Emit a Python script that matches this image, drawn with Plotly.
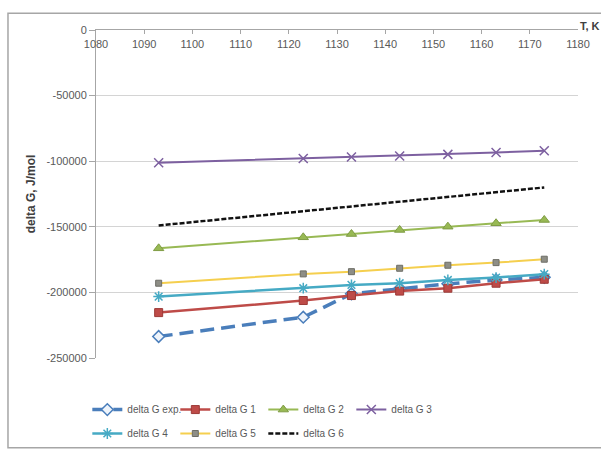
import plotly.graph_objects as go

# Temperatures, K
temps = [1093, 1123, 1133, 1143, 1153, 1163, 1173]

# Gibbs energy change, J/mol
dg_exp = [-233600, -218900, -201100, -197000, -193500, -190500, -188500]
dg_1 = [-215400, -206200, -202400, -199000, -196800, -193000, -190000]
dg_2 = [-166400, -158000, -155500, -152400, -149900, -147300, -144800]
dg_3 = [-101200, -97900, -96800, -96000, -94800, -93300, -92100]
dg_4 = [-203200, -196800, -194300, -193000, -190500, -188700, -186100]
dg_5 = [-193000, -185900, -184200, -181600, -179300, -177300, -174700]
dg_6 = [-149000, -138100, -134500, -130900, -127300, -123600, -120000]

series_names = ["delta G exp.", "delta G 1", "delta G 2", "delta G 3",
                "delta G 4", "delta G 5", "delta G 6"]

y_tick_vals = [0, -50000, -100000, -150000, -200000, -250000]
y_tick_text = ["0", "-50000", "-100000", "-150000", "-200000", "-250000"]
x_tick_vals = [1080, 1090, 1100, 1110, 1120, 1130, 1140, 1150, 1160, 1170, 1180]

FONT = "Liberation Sans, Arial, sans-serif"
TEXT_GRAY = "#595959"

fig = go.Figure()

styles = [
    dict(values=dg_exp, line=dict(color="#4A7EBB", width=3.5, dash="14px,7px"),
         marker=dict(symbol="diamond", size=9, color="#eef4fb",
                     line=dict(color="#4A7EBB", width=1.5))),
    dict(values=dg_1, line=dict(color="#BE4B48", width=2.5),
         marker=dict(symbol="square", size=8, color="#BE4B48",
                     line=dict(color="#9c3a37", width=1))),
    dict(values=dg_2, line=dict(color="#98B954", width=2),
         marker=dict(symbol="triangle-up", size=9, color="#98B954",
                     line=dict(color="#7f9c44", width=1))),
    dict(values=dg_3, line=dict(color="#7D60A0", width=2),
         marker=dict(symbol="x-thin-open", size=9,
                     line=dict(color="#7D60A0", width=1.5))),
    dict(values=dg_4, line=dict(color="#46AAC4", width=2.5),
         marker=dict(symbol="asterisk-open", size=9,
                     line=dict(color="#3a8fa6", width=1.5))),
    dict(values=dg_5, line=dict(color="#F5CF4E", width=2),
         marker=dict(symbol="square", size=6, color="#8e8e86",
                     line=dict(color="#6e6e66", width=1))),
    dict(values=dg_6, line=dict(color="#111111", width=2.5, dash="5px,2px"),
         marker=None),
]

# first four series in the upper legend row, the rest in the lower one
legend_ids = ["legend", "legend", "legend", "legend", "legend2", "legend2", "legend2"]

for name, st, lg in zip(series_names, styles, legend_ids):
    kw = dict(x=temps, y=st["values"], name=name, line=st["line"], legend=lg)
    if st["marker"] is None:
        kw["mode"] = "lines"
    else:
        kw["mode"] = "lines+markers"
        kw["marker"] = st["marker"]
    fig.add_trace(go.Scatter(**kw))

legend_common = dict(
    orientation="h", xanchor="left", yanchor="top",
    font=dict(family=FONT, size=10, color=TEXT_GRAY),
    entrywidth=43, entrywidthmode="pixels",
    itemwidth=30, traceorder="normal",
    bgcolor="rgba(0,0,0,0)",
)

fig.update_layout(
    width=601, height=452,
    margin=dict(l=96, r=23, t=30, b=94, autoexpand=False),
    paper_bgcolor="#ffffff", plot_bgcolor="#ffffff",
    font=dict(family=FONT, size=11, color=TEXT_GRAY),
    showlegend=True,
    legend=dict(x=-0.018, y=-0.113, **legend_common),
    legend2=dict(x=-0.018, y=-0.186, **legend_common),
    xaxis=dict(
        range=[1080, 1180], tickvals=x_tick_vals, side="top",
        ticklabelposition="inside", ticklabeloverflow="allow",
        ticklabelstandoff=6,
        ticks="inside", ticklen=4,
        tickcolor="#a6a6a6", showline=True, linecolor="#a6a6a6", linewidth=1,
        showgrid=False, zeroline=False,
        tickfont=dict(family=FONT, size=11, color=TEXT_GRAY),
    ),
    yaxis=dict(
        range=[-250000, 0], tickvals=y_tick_vals, ticktext=y_tick_text,
        ticklabeloverflow="allow",
        ticks="outside", ticklen=6, tickcolor="#a6a6a6",
        showline=True, linecolor="#a6a6a6", linewidth=1,
        showgrid=True, gridcolor="#d4d4d4", gridwidth=1, zeroline=False,
        tickfont=dict(family=FONT, size=11, color=TEXT_GRAY),
        title=dict(text="<b>delta G, J/mol</b>", standoff=8,
                   font=dict(family=FONT, size=12, color="#404040")),
    ),
    annotations=[
        dict(text="<b>T, K</b>", x=1.0, xref="paper", xanchor="left",
             y=1.0, yref="paper", yanchor="bottom", yshift=-4, xshift=0,
             showarrow=False, font=dict(family=FONT, size=11, color="#404040")),
    ],
    shapes=[
        dict(type="rect", xref="paper", yref="paper",
             x0=-0.1826, x1=1.12, y0=-0.2734, y1=1.0508,
             line=dict(color="#a6a6a6", width=1.5), fillcolor="rgba(0,0,0,0)",
             layer="below"),
    ],
)

fig.write_html("out.html")
